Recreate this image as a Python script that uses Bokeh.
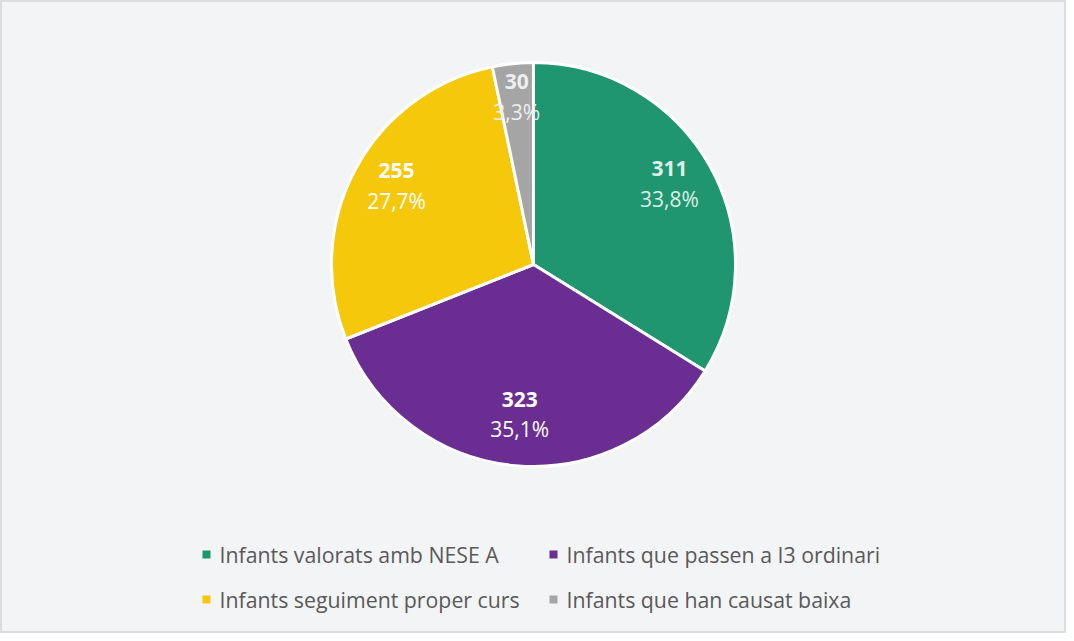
import math
from bokeh.plotting import figure
from bokeh.models import Range1d
from bokeh.core.properties import value
from bokeh.embed import file_html
from bokeh.resources import INLINE

categories = ["Infants valorats amb NESE A", "Infants que passen a I3 ordinari",
              "Infants seguiment proper curs", "Infants que han causat baixa"]
counts = [311, 323, 255, 30]
percent_labels = ["33,8%", "35,1%", "27,7%", "3,3%"]
colors = ["#1f966f", "#6a2d91", "#f5c80b", "#a5a5a5"]
label_colors = ["#dcefe8", "white", "white", "#eeeeee"]

W, H = 1066, 633
p = figure(width=W, height=H, output_backend="svg", toolbar_location=None,
           x_range=Range1d(0, W), y_range=Range1d(0, H), min_border=0)
p.axis.visible = False
p.grid.visible = False
p.background_fill_color = "#f3f4f6"
p.border_fill_color = "#f3f4f6"
p.outline_line_color = "#dcdcdc"
p.outline_line_width = 3

cx, cy, r = 533, H - 264, 202
total = sum(counts)
cum = 0
starts, ends, lx, ly = [], [], [], []
for i, c in enumerate(counts):
    a0 = math.pi / 2 - 2 * math.pi * cum / total
    cum += c
    a1 = math.pi / 2 - 2 * math.pi * cum / total
    starts.append(a0)
    ends.append(a1)
    mid = (a0 + a1) / 2
    d = r * (0.81 if c / total < 0.05 else 0.77)
    lx.append(cx + d * math.cos(mid))
    ly.append(cy + d * math.sin(mid) + 5)

p.wedge(x=cx, y=cy, radius=r, start_angle=starts, end_angle=ends, direction="clock",
        fill_color=colors, line_color="white", line_width=3)

p.text(x=lx, y=[y + 15 for y in ly], text=[str(c) for c in counts],
       text_font=value("Open Sans"), text_font_size="21px", text_font_style="bold",
       text_color=label_colors, text_align="center", text_baseline="middle")
p.text(x=lx, y=[y - 15 for y in ly], text=percent_labels,
       text_font=value("Open Sans"), text_font_size="21px",
       text_color=label_colors, text_align="center", text_baseline="middle")

# legend
leg_x = [206, 553, 206, 553]
leg_y = [H - 554, H - 554, H - 599, H - 599]
p.rect(x=leg_x, y=leg_y, width=8, height=8, fill_color=colors, line_color=None)
p.text(x=[x + 13 for x in leg_x], y=leg_y, text=categories,
       text_font=value("Open Sans"), text_font_size="21.3px", text_color="#595959",
       text_align="left", text_baseline="middle")

open("out.html", "w").write(file_html(p, INLINE))
